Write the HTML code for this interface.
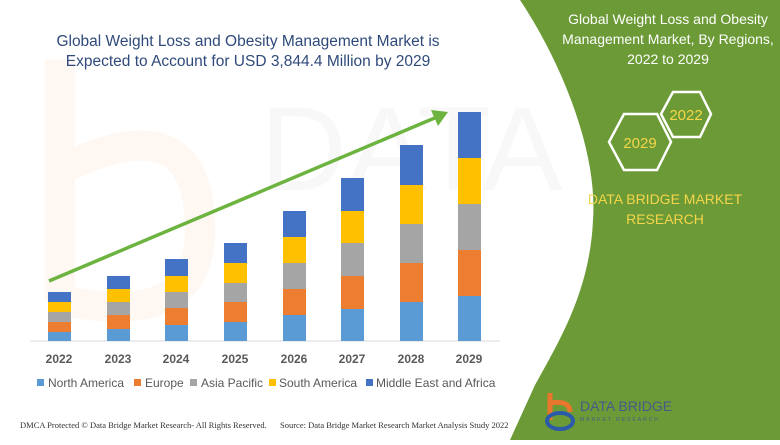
<!DOCTYPE html>
<html><head><meta charset="utf-8"><style>
body{margin:0;width:780px;height:440px;overflow:hidden;background:#fff;font-family:"Liberation Sans",sans-serif}
</style></head><body>
<svg width="780" height="440" viewBox="0 0 780 440" xmlns="http://www.w3.org/2000/svg" font-family="Liberation Sans, sans-serif">
<rect width="780" height="440" fill="#fff"/>
<path d="M60 60 L60 300 M60 170 Q200 100 200 230 Q200 330 60 300" stroke="#fef7f2" stroke-width="30" fill="none"/>
<text x="260" y="190" font-size="120" fill="#f8f8f8">DATA B</text>
<path d="M520 0 C560 60 598 150 593 220 C590 290 560 340 535 385 L510 440 L780 440 L780 0 Z" fill="#6b9a36"/>
<text font-size="15.5" fill="#2f4a7a" text-anchor="middle"><tspan x="248" y="46">Global Weight Loss and Obesity Management Market is</tspan><tspan x="248" y="66">Expected to Account for USD 3,844.4 Million by 2029</tspan></text>
<text font-size="14" fill="#fff" text-anchor="middle"><tspan x="668" y="24">Global Weight Loss and Obesity</tspan><tspan x="668" y="44">Management Market, By Regions,</tspan><tspan x="668" y="64">2022 to 2029</tspan></text>
<polygon points="609,142 624,114 657,114 671,142 657,170 624,170" fill="none" stroke="#fff" stroke-width="2.5"/>
<polygon points="661,114 673,92 700,92 711,114 700,137 673,137" fill="none" stroke="#fff" stroke-width="2.5"/>
<text x="640" y="148" font-size="15" fill="#f5d64a" text-anchor="middle">2029</text>
<text x="686" y="120" font-size="15" fill="#f5d64a" text-anchor="middle">2022</text>
<text font-size="14" fill="#f5d64a" text-anchor="middle"><tspan x="665" y="204">DATA BRIDGE MARKET</tspan><tspan x="665" y="224">RESEARCH</tspan></text>
<path d="M550 393 L550 420" stroke="#e8762c" stroke-width="5"/>
<path d="M550 403 Q570 400 570 412" stroke="#e8762c" stroke-width="5" fill="none"/>
<ellipse cx="560" cy="421" rx="13" ry="8" fill="none" stroke="#2b5aa8" stroke-width="4"/>
<text x="580" y="411" font-size="14" fill="#4a5a8a">DATA BRIDGE</text>
<text x="580" y="421" font-size="5" fill="#4a5a8a" letter-spacing="2">MARKET RESEARCH</text>
<line x1="30" y1="341" x2="500" y2="341" stroke="#d9d9d9" stroke-width="1"/>
<line x1="49" y1="281" x2="437" y2="117" stroke="#6db33f" stroke-width="3.5"/>
<polygon points="448,112 431,110 438,126" fill="#6db33f"/>
<g font-size="12" font-weight="bold" fill="#595959" text-anchor="middle">
<text x="59" y="363">2022</text><text x="118" y="363">2023</text><text x="176" y="363">2024</text><text x="235" y="363">2025</text><text x="294" y="363">2026</text><text x="352" y="363">2027</text><text x="411" y="363">2028</text><text x="469" y="363">2029</text>
</g>
<g font-size="12" fill="#595959">
<rect x="37" y="379" width="7" height="7" fill="#5b9bd5"/><text x="48" y="387">North America</text>
<rect x="134" y="379" width="7" height="7" fill="#ed7d31"/><text x="145" y="387">Europe</text>
<rect x="190" y="379" width="7" height="7" fill="#a5a5a5"/><text x="201" y="387">Asia Pacific</text>
<rect x="269" y="379" width="7" height="7" fill="#ffc000"/><text x="279" y="387">South America</text>
<rect x="366" y="379" width="7" height="7" fill="#4472c4"/><text x="376" y="387">Middle East and Africa</text>
</g>
<g font-family="Liberation Serif, serif" font-size="8.5" fill="#333">
<text x="20" y="428">DMCA Protected © Data Bridge Market Research- All Rights Reserved.</text>
<text x="280" y="428">Source: Data Bridge Market Research Market Analysis Study 2022</text>
</g>
<g>
<rect x="48" y="332" width="23" height="9" fill="#5b9bd5"/><rect x="48" y="322" width="23" height="10" fill="#ed7d31"/><rect x="48" y="312" width="23" height="10" fill="#a5a5a5"/><rect x="48" y="302" width="23" height="10" fill="#ffc000"/><rect x="48" y="292" width="23" height="10" fill="#4472c4"/>
<rect x="107" y="329" width="23" height="12" fill="#5b9bd5"/><rect x="107" y="315" width="23" height="14" fill="#ed7d31"/><rect x="107" y="302" width="23" height="13" fill="#a5a5a5"/><rect x="107" y="289" width="23" height="13" fill="#ffc000"/><rect x="107" y="276" width="23" height="13" fill="#4472c4"/>
<rect x="165" y="325" width="23" height="16" fill="#5b9bd5"/><rect x="165" y="308" width="23" height="17" fill="#ed7d31"/><rect x="165" y="292" width="23" height="16" fill="#a5a5a5"/><rect x="165" y="276" width="23" height="16" fill="#ffc000"/><rect x="165" y="259" width="23" height="17" fill="#4472c4"/>
<rect x="224" y="322" width="23" height="19" fill="#5b9bd5"/><rect x="224" y="302" width="23" height="20" fill="#ed7d31"/><rect x="224" y="283" width="23" height="19" fill="#a5a5a5"/><rect x="224" y="263" width="23" height="20" fill="#ffc000"/><rect x="224" y="243" width="23" height="20" fill="#4472c4"/>
<rect x="283" y="315" width="23" height="26" fill="#5b9bd5"/><rect x="283" y="289" width="23" height="26" fill="#ed7d31"/><rect x="283" y="263" width="23" height="26" fill="#a5a5a5"/><rect x="283" y="237" width="23" height="26" fill="#ffc000"/><rect x="283" y="211" width="23" height="26" fill="#4472c4"/>
<rect x="341" y="309" width="23" height="32" fill="#5b9bd5"/><rect x="341" y="276" width="23" height="33" fill="#ed7d31"/><rect x="341" y="243" width="23" height="33" fill="#a5a5a5"/><rect x="341" y="211" width="23" height="32" fill="#ffc000"/><rect x="341" y="178" width="23" height="33" fill="#4472c4"/>
<rect x="400" y="302" width="23" height="39" fill="#5b9bd5"/><rect x="400" y="263" width="23" height="39" fill="#ed7d31"/><rect x="400" y="224" width="23" height="39" fill="#a5a5a5"/><rect x="400" y="185" width="23" height="39" fill="#ffc000"/><rect x="400" y="145" width="23" height="40" fill="#4472c4"/>
<rect x="458" y="296" width="23" height="45" fill="#5b9bd5"/><rect x="458" y="250" width="23" height="46" fill="#ed7d31"/><rect x="458" y="204" width="23" height="46" fill="#a5a5a5"/><rect x="458" y="158" width="23" height="46" fill="#ffc000"/><rect x="458" y="112" width="23" height="46" fill="#4472c4"/>
</g>
</svg>
</body></html>
